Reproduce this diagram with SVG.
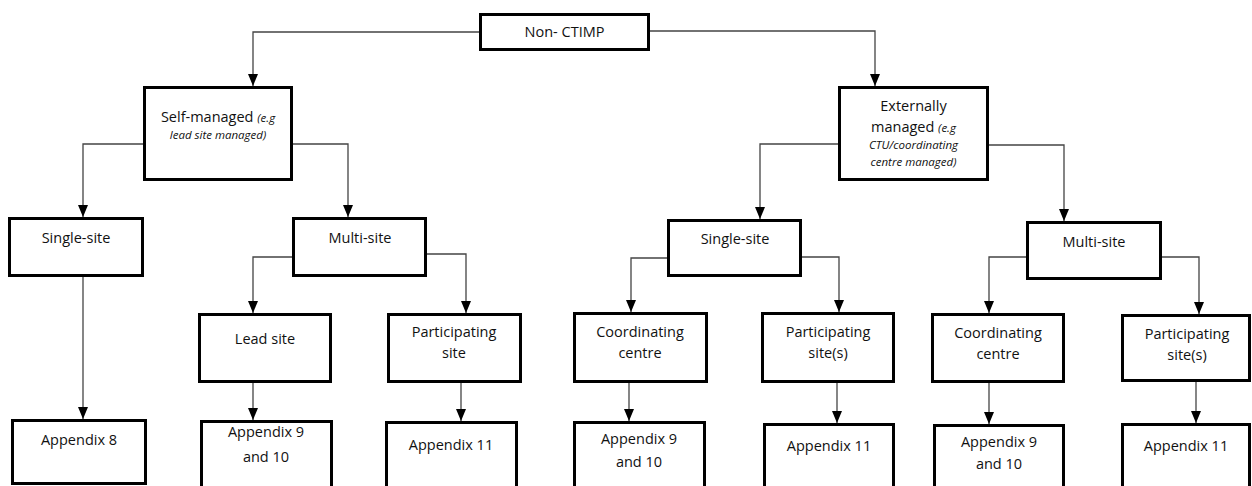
<svg xmlns="http://www.w3.org/2000/svg" width="1252" height="486" viewBox="0 0 1252 486">
<style>
.box{fill:#fff;stroke:#000;stroke-width:3}
.t{font-family:"Open Sans","Noto Sans",sans-serif;font-size:14.5px;fill:#111;text-anchor:middle}
.i{font-style:italic;font-size:11.5px}
.c{fill:none;stroke:#444;stroke-width:1.3}
</style>
<defs>
<marker id="ah" viewBox="0 0 12 10" refX="12" refY="5" markerWidth="12" markerHeight="10" markerUnits="userSpaceOnUse" orient="auto">
<path d="M0,0 L12,5 L0,10 z" fill="#000"/>
</marker>
</defs>
<g id="connectors" marker-end="url(#ah)">
<path class="c" d="M479,32 H253 V86" marker-end="url(#ah)"/>
<path class="c" d="M650,31 H875 V86" marker-end="url(#ah)"/>
<path class="c" d="M143,144 H83 V217" marker-end="url(#ah)"/>
<path class="c" d="M293,144 H348 V217" marker-end="url(#ah)"/>
<path class="c" d="M838,144 H760 V219" marker-end="url(#ah)"/>
<path class="c" d="M989,145 H1064 V221" marker-end="url(#ah)"/>
<path class="c" d="M83,277 V419" marker-end="url(#ah)"/>
<path class="c" d="M292,257 H253 V313" marker-end="url(#ah)"/>
<path class="c" d="M427,254 H466 V313" marker-end="url(#ah)"/>
<path class="c" d="M253,383 V420" marker-end="url(#ah)"/>
<path class="c" d="M461,383 V421" marker-end="url(#ah)"/>
<path class="c" d="M667,258 H631 V312" marker-end="url(#ah)"/>
<path class="c" d="M802,257 H839 V312" marker-end="url(#ah)"/>
<path class="c" d="M629,383 V421" marker-end="url(#ah)"/>
<path class="c" d="M837,383 V423" marker-end="url(#ah)"/>
<path class="c" d="M1026,257 H989 V313" marker-end="url(#ah)"/>
<path class="c" d="M1162,257 H1199 V314" marker-end="url(#ah)"/>
<path class="c" d="M989,383 V424" marker-end="url(#ah)"/>
<path class="c" d="M1196,382 V423" marker-end="url(#ah)"/>
</g>
<g id="root"><rect class="box" x="480.5" y="14.5" width="168" height="35"/><text class="t" x="564.5" y="37">Non- CTIMP</text></g>
<g id="self-managed"><rect class="box" x="144.5" y="87.5" width="147" height="92"/><text class="t" x="218" y="122">Self-managed <tspan class="i">(e.g</tspan></text><text class="t i" x="218" y="139">lead site managed)</text></g>
<g id="externally-managed"><rect class="box" x="839.5" y="87.5" width="148" height="92"/><text class="t" x="913.5" y="111">Externally</text><text class="t" x="913.5" y="132">managed <tspan class="i">(e.g</tspan></text><text class="t i" x="913.5" y="149">CTU/coordinating</text><text class="t i" x="913.5" y="166">centre managed)</text></g>
<g id="single-site-1"><rect class="box" x="9.5" y="218.5" width="133" height="57"/><text class="t" x="76" y="243">Single-site</text></g>
<g id="multi-site-1"><rect class="box" x="293.5" y="218.5" width="132" height="57"/><text class="t" x="360" y="243">Multi-site</text></g>
<g id="lead-site"><rect class="box" x="199.5" y="314.5" width="131" height="67"/><text class="t" x="265" y="344">Lead site</text></g>
<g id="participating-site-1"><rect class="box" x="388.5" y="314.5" width="132" height="67"/><text class="t" x="454" y="337">Participating</text><text class="t" x="454" y="358">site</text></g>
<g id="single-site-2"><rect class="box" x="668.5" y="220.5" width="132" height="55"/><text class="t" x="735" y="244">Single-site</text></g>
<g id="multi-site-2"><rect class="box" x="1027.5" y="222.5" width="133" height="56"/><text class="t" x="1094" y="247">Multi-site</text></g>
<g id="coordinating-centre-1"><rect class="box" x="574.5" y="313.5" width="132" height="68"/><text class="t" x="640" y="337">Coordinating</text><text class="t" x="640" y="358">centre</text></g>
<g id="participating-sites-1"><rect class="box" x="762.5" y="313.5" width="131" height="68"/><text class="t" x="828" y="337">Participating</text><text class="t" x="828" y="358">site(s)</text></g>
<g id="coordinating-centre-2"><rect class="box" x="932.5" y="314.5" width="131" height="67"/><text class="t" x="998" y="338">Coordinating</text><text class="t" x="998" y="359">centre</text></g>
<g id="participating-sites-2"><rect class="box" x="1122.5" y="315.5" width="127" height="65"/><text class="t" x="1187" y="339">Participating</text><text class="t" x="1187" y="360">site(s)</text></g>
<g id="appendix-8"><rect class="box" x="12.5" y="420.5" width="133" height="63"/><text class="t" x="79" y="445">Appendix 8</text></g>
<g id="appendix-9-10-1"><rect class="box" x="201.5" y="421.5" width="130" height="70"/><text class="t" x="266" y="437">Appendix 9</text><text class="t" x="266" y="462">and 10</text></g>
<g id="appendix-11-1"><rect class="box" x="386.5" y="422.5" width="130" height="70"/><text class="t" x="451" y="450">Appendix 11</text></g>
<g id="appendix-9-10-2"><rect class="box" x="574.5" y="422.5" width="130" height="70"/><text class="t" x="639" y="444">Appendix 9</text><text class="t" x="639" y="467">and 10</text></g>
<g id="appendix-11-2"><rect class="box" x="764.5" y="424.5" width="129" height="70"/><text class="t" x="829" y="451">Appendix 11</text></g>
<g id="appendix-9-10-3"><rect class="box" x="934.5" y="425.5" width="129" height="70"/><text class="t" x="999" y="447">Appendix 9</text><text class="t" x="999" y="469">and 10</text></g>
<g id="appendix-11-3"><rect class="box" x="1122.5" y="424.5" width="127" height="70"/><text class="t" x="1186" y="451">Appendix 11</text></g>
</svg>
